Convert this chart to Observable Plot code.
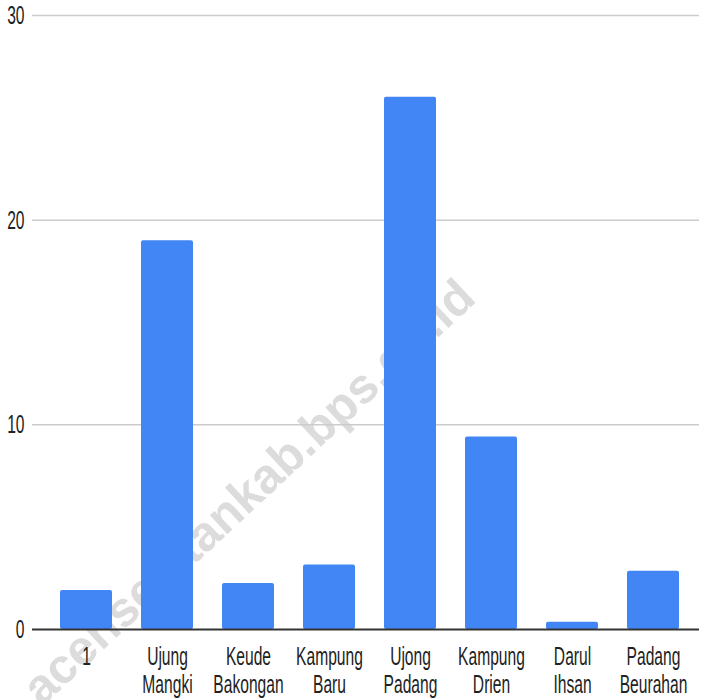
<!DOCTYPE html>
<html>
<head>
<meta charset="utf-8">
<script src="https://cdn.jsdelivr.net/npm/d3@7"></script>
<script src="https://cdn.jsdelivr.net/npm/@observablehq/plot@0.6"></script>
<style>
body { margin: 0; background: #fff; }
#chart svg { display: block; }
</style>
</head>
<body>
<div id="chart"></div>
<script>
const categories = ["1", "Ujung Mangki", "Keude Bakongan", "Kampung Baru", "Ujong Padang", "Kampung Drien", "Darul Ihsan", "Padang Beurahan"];
const values = [1.9, 19, 2.25, 3.15, 26, 9.4, 0.35, 2.85];
const labels = ["1", "Ujung\nMangki", "Keude\nBakongan", "Kampung\nBaru", "Ujong\nPadang", "Kampung\nDrien", "Darul\nIhsan", "Padang\nBeurahan"];
const yTicks = [0, 10, 20, 30];
const watermark = "acehselatankab.bps.go.id";

const data = categories.map((c, i) => ({ category: c, value: values[i] }));
const labelOf = new Map(categories.map((c, i) => [c, labels[i]]));

const chart = Plot.plot({
  width: 701,
  height: 700,
  marginLeft: 32,
  marginRight: 2,
  marginTop: 15,
  marginBottom: 71,
  style: { fontFamily: "'Liberation Sans', Arial, sans-serif", background: "#fff" },
  x: { domain: categories, paddingInner: 0.36, paddingOuter: 0.18, insetLeft: 13, insetRight: 5, label: null },
  y: { domain: [0, 30], label: null },
  marks: [
    Plot.text([watermark], {
      text: d => d, frameAnchor: "middle", dx: -117, dy: 170, rotate: -43,
      fontSize: 49, fontWeight: "bold", fill: "#dcdcdc"
    }),
    Plot.ruleY(yTicks.filter(d => d > 0), { stroke: "#cccccc", strokeWidth: 1.5 }),
    Plot.barY(data, { x: "category", y: "value", fill: "#4285f4", rx: 2 }),
    Plot.ruleY([0], { stroke: "#333333", strokeWidth: 2 }),
    Plot.axisY({ ticks: yTicks, tickSize: 0, tickPadding: 8, fontSize: 26, fill: "#222", label: null }),
    Plot.axisX({ tickSize: 0, tickPadding: 15, fontSize: 26, lineHeight: 1.1, fill: "#222", label: null,
      tickFormat: d => labelOf.get(d) })
  ]
});

d3.select(chart).selectAll("g[aria-label='x-axis tick label'] text, g[aria-label='y-axis tick label'] text")
  .each(function () {
    const t = this.getAttribute("transform") || "";
    this.setAttribute("transform", t + " scale(0.6,1)");
  });

document.getElementById("chart").appendChild(chart);
</script>
</body>
</html>
